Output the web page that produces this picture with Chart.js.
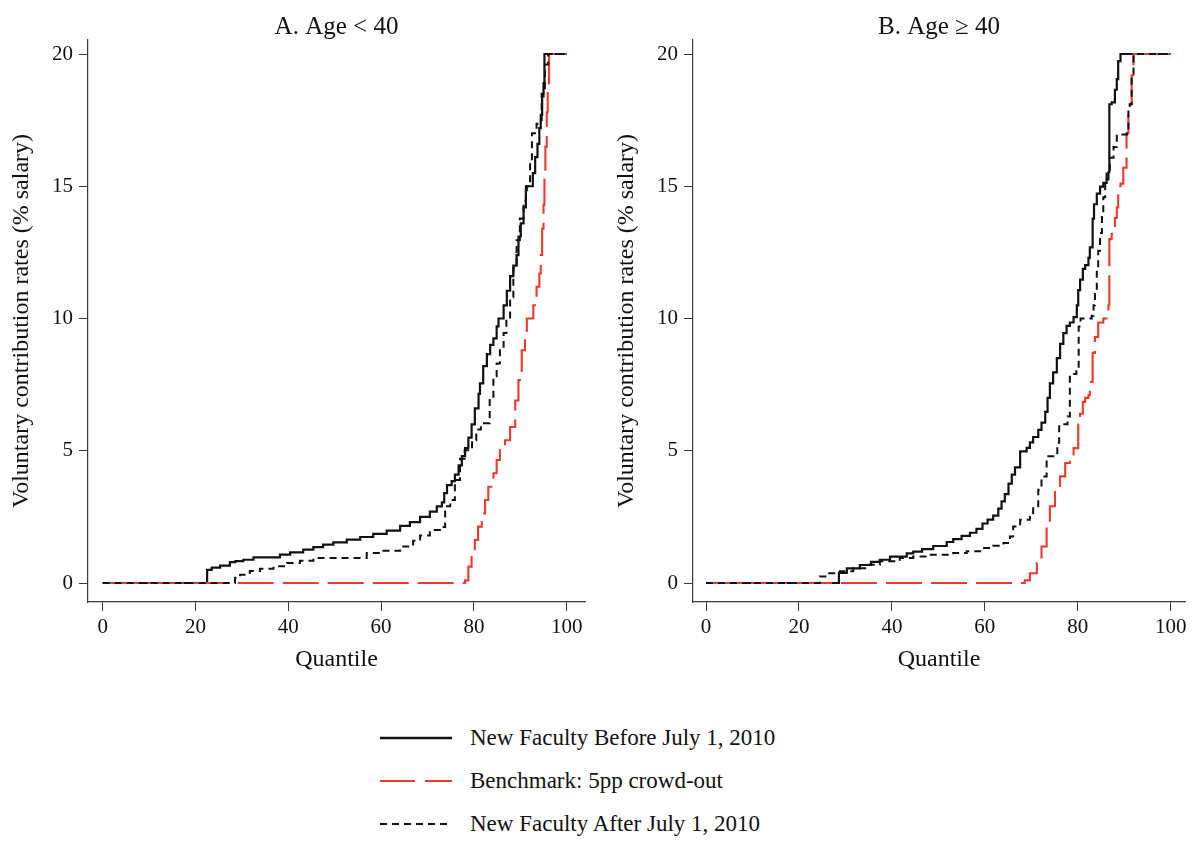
<!DOCTYPE html>
<html>
<head>
<meta charset="utf-8">
<title>Voluntary contribution rates by quantile</title>
<script src="https://cdn.jsdelivr.net/npm/chart.js@4.4.1/dist/chart.umd.min.js"></script>
<style>
  html, body { margin: 0; padding: 0; background: #ffffff; }
  #page { position: relative; width: 1193px; height: 842px; overflow: hidden; background: #ffffff;
          font-family: 'Liberation Serif', 'Times New Roman', serif; color: #111; }
  #page canvas { position: absolute; top: 0; }
  #left { left: 0; }
  #right { left: 605px; }
  .row { position: absolute; left: 380px; height: 30px; display: flex; align-items: center;
         white-space: nowrap; font-size: 23px; color: #111; }
  .row svg { width: 72px; height: 30px; margin-right: 18px; flex: none; }
</style>
</head>
<body>
<div id="page">
  <canvas id="left" width="600" height="700"></canvas>
  <canvas id="right" width="588" height="700"></canvas>

  <div class="row" style="top:723px">
    <svg viewBox="0 0 72 30"><line x1="0" y1="15" x2="72" y2="15" stroke="#111" stroke-width="2.4"/></svg>
    <span>New Faculty Before July 1, 2010</span>
  </div>
  <div class="row" style="top:766px">
    <svg viewBox="0 0 72 30"><line x1="0" y1="15" x2="72" y2="15" stroke="#ee3a2e" stroke-width="2.2" stroke-dasharray="35 10"/></svg>
    <span>Benchmark: 5pp crowd-out</span>
  </div>
  <div class="row" style="top:809px">
    <svg viewBox="0 0 72 30"><line x1="0" y1="15" x2="72" y2="15" stroke="#111" stroke-width="2.2" stroke-dasharray="7 5"/></svg>
    <span>New Faculty After July 1, 2010</span>
  </div>
</div>

<script>
// Quantile functions: [quantile, contribution rate (% of salary)], value holds from that quantile on.
const quantileTicks = [0, 20, 40, 60, 80, 100];
const rateTicks = [0, 5, 10, 15, 20];
const seriesLabels = ['New Faculty Before July 1, 2010', 'Benchmark: 5pp crowd-out', 'New Faculty After July 1, 2010'];
const panelTitles = ['A. Age < 40', 'B. Age \u2265 40'];

// Panel A: Age < 40
const youngBefore = [
  [0,0],[22.5,0.5],[23.5,0.58],[25.3,0.66],[27.4,0.79],[28.6,0.83],[30.3,0.88],[32.5,0.97],[38.2,1.07],
  [40.4,1.16],[43.2,1.26],[45.4,1.36],[47.5,1.45],[49.7,1.54],[52.6,1.64],[55.5,1.74],[58.3,1.86],
  [61.2,1.98],[64.1,2.16],[66.2,2.3],[68.4,2.5],[70.5,2.7],[72.0,2.9],[73.1,3.05],[73.6,3.4],[74.2,3.7],
  [75.2,3.85],[75.9,4.1],[76.7,4.45],[77.4,4.8],[78.1,5.1],[78.8,5.5],[79.5,6.0],[80.2,6.6],[81.0,7.15],
  [81.3,7.55],[82.0,8.2],[82.8,8.65],[83.5,9.0],[84.2,9.25],[84.9,9.7],[85.3,10.0],[86.4,10.5],[87.1,11.05],
  [87.8,11.6],[88.5,12.0],[89.2,12.4],[89.6,13.1],[90.1,13.6],[90.7,14.2],[91.2,14.85],[91.4,15.0],
  [92.7,15.5],[93.2,16.1],[93.7,16.6],[94.1,17.2],[94.4,17.7],[94.7,18.4],[95.0,18.9],[95.2,20],[100,20]
];
const youngBenchmark = [
  [0,0],[78.1,0.1],[78.8,0.62],[79.5,1.12],[80.2,1.63],[80.9,2.13],[81.7,2.63],[82.4,3.14],[83.1,3.64],
  [84.2,4.15],[84.9,4.65],[85.6,5.03],[86.7,5.4],[87.8,5.9],[88.9,6.9],[89.6,7.67],[90.3,8.8],[91.0,9.44],
  [91.4,10.0],[92.8,10.5],[93.5,11.2],[94.1,11.7],[94.4,12.4],[94.7,13.4],[95.0,14.3],[95.2,15.4],
  [95.4,16.5],[95.7,17.8],[95.9,18.9],[96.2,20],[100,20]
];
const youngAfter = [
  [0,0],[28.5,0.2],[29.6,0.31],[31.7,0.45],[33.9,0.54],[36.8,0.63],[39.7,0.76],[42.5,0.84],[45.4,0.95],
  [56.9,1.13],[59.8,1.22],[64.1,1.38],[66.9,1.6],[68.4,1.8],[70.5,2.0],[72.7,2.12],[73.8,2.9],[74.9,3.14],
  [75.9,3.89],[77.0,4.7],[78.0,5.02],[79.6,5.4],[80.5,5.8],[81.5,6.04],[83.4,7.0],[84.2,7.82],[84.9,8.3],
  [85.6,8.93],[86.4,9.45],[87.0,10.0],[87.8,10.8],[88.5,11.9],[89.2,12.96],[89.9,13.78],[90.7,14.45],
  [91.2,15.0],[92.1,15.94],[92.5,17.0],[93.5,17.36],[94.1,17.5],[94.6,18.5],[95.3,19.6],[96.0,20],[100,20]
];

// Panel B: Age >= 40
const oldBefore = [
  [0,0],[28.6,0.38],[30.3,0.55],[33.1,0.68],[35.5,0.8],[37.4,0.88],[39.6,1.0],[43.2,1.12],[44.6,1.19],
  [46.5,1.28],[48.9,1.4],[51.8,1.55],[53.2,1.66],[55.0,1.78],[56.8,1.9],[58.2,2.05],[59.5,2.25],[60.6,2.4],
  [61.8,2.55],[62.9,2.81],[63.6,3.09],[64.3,3.36],[65.1,3.76],[65.8,4.1],[66.5,4.37],[67.6,4.98],[69.0,5.11],
  [69.7,5.32],[70.4,5.52],[71.5,5.79],[72.2,6.06],[73.0,6.47],[73.5,7.0],[74.0,7.55],[74.7,7.96],[75.5,8.5],
  [76.2,9.04],[76.9,9.45],[77.6,9.72],[78.3,9.85],[79.1,10.05],[79.8,10.5],[80.1,11.07],[80.5,11.47],
  [81.1,11.88],[81.6,12.02],[82.3,12.29],[82.6,12.69],[83.2,13.78],[83.5,14.32],[84.1,14.72],[84.8,14.99],
  [85.5,15.13],[86.2,15.26],[86.6,15.53],[86.8,18.1],[87.3,18.17],[88.0,18.65],[88.4,19.05],[88.7,19.73],
  [89.2,20],[100,20]
];
const oldBenchmark = [
  [0,0],[68.6,0.1],[69.7,0.37],[71.2,0.75],[72.2,1.38],[73.3,2.27],[74.0,2.9],[75.1,3.53],[76.2,4.03],
  [77.3,4.54],[78.3,4.79],[79.1,5.1],[80.1,6.0],[80.5,6.4],[81.1,6.85],[81.6,7.0],[82.3,7.1],[82.6,7.6],
  [83.2,8.7],[83.7,9.3],[84.4,9.85],[85.5,10.0],[86.2,10.26],[86.6,10.5],[86.8,13.0],[87.3,13.2],[88.0,13.8],
  [88.4,14.2],[88.7,15.0],[89.2,15.1],[89.8,15.7],[90.5,17.0],[90.9,17.8],[91.2,18.1],[91.6,19.2],[92.0,20],
  [100,20]
];
const oldAfter = [
  [0,0],[24.5,0.25],[26.0,0.37],[28.8,0.44],[31.7,0.56],[34.6,0.69],[37.4,0.82],[41.7,0.95],[44.6,1.0],
  [47.5,1.07],[53.2,1.13],[56.1,1.2],[59.0,1.32],[61.8,1.41],[64.0,1.51],[65.4,1.76],[66.1,2.14],[67.6,2.39],
  [69.7,2.55],[70.4,2.9],[71.5,3.53],[72.2,4.03],[73.3,4.79],[75.6,5.3],[76.0,6.0],[77.8,6.3],[78.3,7.9],
  [79.7,8.1],[80.2,9.7],[80.6,10.0],[83.0,10.1],[83.4,10.5],[83.7,11.07],[84.1,11.88],[84.4,12.56],
  [84.8,13.23],[85.2,13.9],[85.5,14.58],[85.9,15.13],[86.2,15.53],[86.9,16.08],[87.7,16.48],[88.4,16.96],
  [90.6,17.0],[90.9,18.04],[91.2,18.1],[91.6,19.19],[92.0,20],[100,20]
];

const FONT = "'Liberation Serif', 'Times New Roman', serif";
const INK = '#111111';
const RED = '#ee3a2e';
const AXIS = '#3a3a3a';

// Panel heading centred over the plot region.
const panelTitle = {
  id: 'panelTitle',
  afterDraw(chart, args, opts) {
    const { ctx, chartArea } = chart;
    ctx.save();
    ctx.font = opts.size + 'px ' + FONT;
    ctx.fillStyle = INK;
    ctx.textAlign = 'center';
    ctx.textBaseline = 'middle';
    ctx.fillText(opts.text, (chartArea.left + chartArea.right) / 2, opts.y);
    ctx.restore();
  }
};

const toPoints = arr => arr.map(([x, y]) => ({ x, y }));

function makePanel(id, title, before, bench, after, xRange, rightPad) {
  const stepLine = { stepped: 'before', pointRadius: 0, pointHoverRadius: 0, fill: false,
                     borderCapStyle: 'butt', borderJoinStyle: 'miter' };
  return new Chart(document.getElementById(id), {
    type: 'line',
    data: {
      datasets: [
        Object.assign({ label: seriesLabels[0], data: toPoints(before), borderColor: INK,
                        borderWidth: 2.2, order: 2 }, stepLine),
        Object.assign({ label: seriesLabels[1], data: toPoints(bench), borderColor: RED,
                        borderWidth: 2.1, borderDash: [36, 9], order: 1 }, stepLine),
        Object.assign({ label: seriesLabels[2], data: toPoints(after), borderColor: INK,
                        borderWidth: 2.0, borderDash: [7, 5], order: 0 }, stepLine)
      ]
    },
    options: {
      responsive: false,
      animation: false,
      devicePixelRatio: 1,
      events: [],
      layout: { padding: { top: 40, right: rightPad, left: 0, bottom: 0 } },
      plugins: {
        legend: { display: false },
        tooltip: { enabled: false },
        title: { display: false },
        panelTitle: { text: title, y: 27, size: 25 }
      },
      scales: {
        x: {
          type: 'linear',
          min: xRange[0], max: xRange[1],
          afterBuildTicks: s => { s.ticks = quantileTicks.map(v => ({ value: v })); },
          afterFit: s => { s.height = 98; },
          grid: { display: true, drawOnChartArea: false, drawTicks: true, tickLength: 9, color: AXIS, lineWidth: 1 },
          border: { display: true, color: AXIS, width: 1.2 },
          ticks: { font: { family: FONT, size: 21 }, color: INK, padding: 4, maxRotation: 0, autoSkip: false },
          title: { display: true, text: 'Quantile', font: { family: FONT, size: 24 }, color: INK,
                   padding: { top: 0, bottom: 26 } }
        },
        y: {
          type: 'linear',
          min: -0.718, max: 20.53,
          afterBuildTicks: s => { s.ticks = rateTicks.map(v => ({ value: v })); },
          afterFit: s => { s.width = 88; },
          grid: { display: true, drawOnChartArea: false, drawTicks: true, tickLength: 9, color: AXIS, lineWidth: 1 },
          border: { display: true, color: AXIS, width: 1.2 },
          ticks: { font: { family: FONT, size: 21 }, color: INK, padding: 6, autoSkip: false },
          title: { display: true, text: 'Voluntary contribution rates (% salary)', font: { family: FONT, size: 24 },
                   color: INK, padding: { top: 7, bottom: 0 } }
        }
      }
    },
    plugins: [panelTitle]
  });
}

makePanel('left', panelTitles[0], youngBefore, youngBenchmark, youngAfter, [-3.17, 103.94], 15);
makePanel('right', panelTitles[1], oldBefore, oldBenchmark, oldAfter, [-2.80, 103.08], 8);
</script>
</body>
</html>
